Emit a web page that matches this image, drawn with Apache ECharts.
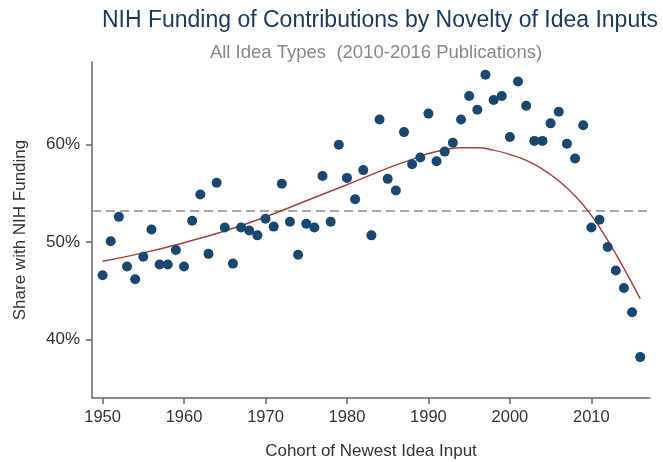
<!DOCTYPE html>
<html>
<head>
<meta charset="utf-8">
<script src="https://cdn.jsdelivr.net/npm/echarts@6/dist/echarts.min.js"></script>
<style>
  html, body { margin: 0; padding: 0; background: #fff; }
  #chart { width: 663px; height: 462px; }
</style>
</head>
<body>
<div id="chart"></div>
<script>
  // cohort years, one dot per year
  const years = [];
  for (let y = 1950; y <= 2016; y++) years.push(y);

  // share with NIH funding (%)
  const shares = [
    46.6, 50.1, 52.6, 47.5, 46.2, 48.5, 51.3, 47.7, 47.7, 49.2,
    47.5, 52.2, 54.9, 48.8, 56.1, 51.5, 47.8, 51.5, 51.2, 50.7,
    52.4, 51.6, 56.0, 52.1, 48.7, 51.9, 51.5, 56.8, 52.1, 60.0,
    56.6, 54.4, 57.4, 50.7, 62.6, 56.5, 55.3, 61.3, 58.0, 58.7,
    63.2, 58.3, 59.3, 60.2, 62.6, 65.0, 63.6, 67.2, 64.6, 65.0,
    60.8, 66.5, 64.0, 60.4, 60.4, 62.2, 63.4, 60.1, 58.6, 62.0,
    51.5, 52.3, 49.5, 47.1, 45.3, 42.8, 38.2
  ];

  // fitted curve, read at a few years
  const fitYears = [1950, 1955, 1960, 1965, 1970, 1975, 1980, 1985, 1988, 1990, 1992, 1994, 1996, 1998, 2000, 2002, 2004, 2006, 2008, 2010, 2012, 2014, 2016];
  const fitShares = [48.05, 48.9, 49.95, 51.15, 52.6, 54.25, 55.9, 57.6, 58.5, 59.1, 59.5, 59.7, 59.7, 59.45, 59.0, 58.4, 57.5, 56.3, 54.75, 52.75, 50.2, 47.3, 44.2];

  const meanShare = 53.2;
  const xTicks = [1950, 1960, 1970, 1980, 1990, 2000, 2010];
  const yTicks = [40, 50, 60];

  const font = 'Liberation Sans, Arial, sans-serif';
  const chart = echarts.init(document.getElementById('chart'));

  chart.setOption({
    animation: false,
    backgroundColor: '#fff',
    title: [
      {
        text: 'NIH Funding of Contributions by Novelty of Idea Inputs',
        left: 375, top: 4, textAlign: 'center',
        textStyle: { fontFamily: font, fontSize: 23, fontWeight: 'normal', color: '#1c3a60' }
      },
      {
        text: 'All Idea Types  (2010-2016 Publications)',
        left: 371, top: 38, textAlign: 'center',
        textStyle: { fontFamily: font, fontSize: 18.5, fontWeight: 'normal', color: '#888' }
      }
    ],
    grid: { left: 92, right: 13, top: 62, bottom: 64, outerBoundsMode: 'none' },
    xAxis: {
      type: 'value',
      min: 1948.7, max: 2017.2,
      name: 'Cohort of Newest Idea Input',
      nameLocation: 'middle', nameGap: 45,
      nameTextStyle: { fontFamily: font, fontSize: 17, color: '#333' },
      axisLine: { show: true, lineStyle: { color: '#666', width: 1.5 } },
      axisTick: { show: true, length: 6, customValues: xTicks, lineStyle: { color: '#666', width: 1.5 } },
      axisLabel: {
        customValues: xTicks, fontFamily: font, fontSize: 16.5, color: '#333', margin: 11,
        formatter: v => String(v)
      },
      splitLine: { show: false }
    },
    yAxis: {
      type: 'value',
      min: 34, max: 68.5,
      name: 'Share with NIH Funding',
      nameLocation: 'middle', nameGap: 63,
      nameTextStyle: { fontFamily: font, fontSize: 17, color: '#333' },
      axisLine: { show: true, lineStyle: { color: '#666', width: 1.5 } },
      axisTick: { show: true, length: 6, customValues: yTicks, lineStyle: { color: '#666', width: 1.5 } },
      axisLabel: {
        customValues: yTicks, fontFamily: font, fontSize: 17, color: '#333', margin: 12,
        formatter: v => v + '%'
      },
      splitLine: { show: false }
    },
    series: [
      {
        type: 'line',
        data: [[1948.7, meanShare], [2017.2, meanShare]],
        symbol: 'none',
        lineStyle: { color: '#8c8c8c', width: 1.5, type: [9, 5] },
        z: 1
      },
      {
        type: 'line',
        data: fitYears.map((y, i) => [y, fitShares[i]]),
        smooth: 0.5,
        symbol: 'none',
        lineStyle: { color: '#a8403f', width: 1.5 },
        z: 2
      },
      {
        type: 'scatter',
        data: years.map((y, i) => [y, shares[i]]),
        symbolSize: 10,
        itemStyle: { color: '#1a476f', opacity: 1 },
        z: 3
      }
    ]
  });
</script>
</body>
</html>
